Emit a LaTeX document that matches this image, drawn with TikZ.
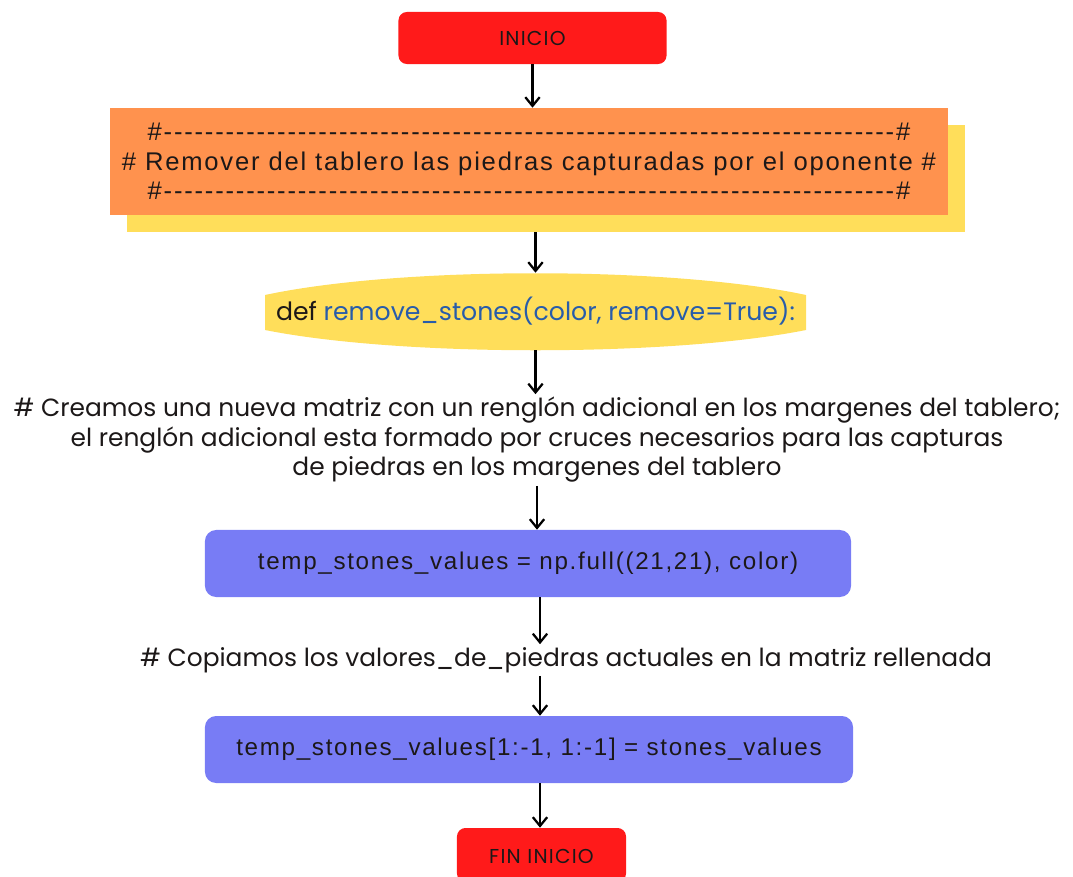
\documentclass[tikz,border=0pt]{standalone}
\usepackage{fontspec}
\setmainfont{Poppins}
\newfontfamily\capfont[LetterSpace=6]{Poppins}
\newfontfamily\boxfont[LetterSpace=7]{Liberation Sans}
\usetikzlibrary{arrows.meta, backgrounds, positioning}
\definecolor{inicred}{RGB}{255, 26, 26}
\definecolor{remorange}{RGB}{255, 146, 78}
\definecolor{remyellow}{RGB}{255, 222, 90}
\definecolor{codeblue}{RGB}{120, 124, 245}
\definecolor{kwblue}{RGB}{40, 92, 170}
\definecolor{inktext}{RGB}{28, 24, 24}
\newcommand{\dashrow}{\foreach \i in {1,...,71}{-}}
\tikzset{
  startbox/.style={rectangle, rounded corners=6pt, fill=inicred, text=inktext,
                   minimum width=#1, minimum height=1.3cm, inner sep=0pt,
                   font=\capfont\fontsize{14.3}{17}\selectfont},
  startbox/.default=6.7cm,
  notebox/.style={rectangle, fill=remorange, text=inktext, align=center,
                  minimum width=20.95cm, minimum height=2.675cm, inner sep=0pt,
                  font=\boxfont\fontsize{18.2}{21}\selectfont},
  shadebox/.style={rectangle, fill=remyellow, minimum width=20.95cm,
                   minimum height=2.675cm},
  codebox/.style={rectangle, rounded corners=8pt, fill=codeblue, text=inktext,
                  minimum width=#1, minimum height=1.675cm, inner sep=0pt,
                  font=\boxfont\fontsize{17.2}{20}\selectfont},
  codebox/.default=16.2cm,
  comment/.style={align=center, text=inktext, inner sep=2pt,
                  font=\fontsize{17.7}{21}\selectfont},
  arrow/.style={-{Straight Barb[length=2.2mm, width=3.6mm]}, line width=1.6pt,
                color=black},
}

\begin{document}
\begin{tikzpicture}[x=0.025cm, y=-0.025cm]
  \useasboundingbox (0,0) rectangle (1073,876);

  % Start
  \node[startbox] (inicio) at (532.5,38) {INICIO};

  % Header comment with its yellow backing
  \node[shadebox] (remshadow) at (546,178.5) {};
  \node[notebox] (remover) at (529,161.5)
       {\#\dashrow\#\\\# Remover del tablero las piedras capturadas por el oponente \#\\\#\dashrow\#};

  % Function definition
  \node[inner sep=0pt, minimum width=13.525cm, minimum height=1.925cm,
        font=\fontsize{17.9}{21}\selectfont] (defn) at (535.5,311.5)
       {\textcolor{inktext}{def} \textcolor{kwblue}{remove\_stones(color, remove=True):}};
  \begin{scope}[on background layer]
    \fill[remyellow, shift={(defn.center)}]
      (-270.5,-16.5) .. controls (-135,-45.5) and (135,-45.5) .. (270.5,-16.5)
      -- (270.5,18.5) .. controls (135,45.5) and (-135,45.5) .. (-270.5,18.5) -- cycle;
  \end{scope}

  % Comment on the padded matrix
  \node[comment] (creamos) at (537,440)
       {\# Creamos una nueva matriz con un renglón adicional en los margenes del tablero;\\
        el renglón adicional esta formado por cruces necesarios para las capturas\\
        de piedras en los margenes del tablero};

  \node[codebox=16.15cm] (full) at (528,563.5) {temp\_stones\_values = np.full((21,21), color)};

  \node[comment] (copiamos) at (566,660)
       {\# Copiamos los valores\_de\_piedras actuales en la matriz rellenada};

  \node[codebox] (slice) at (529,749.5) {temp\_stones\_values[1:-1, 1:-1] = stones\_values};

  % End
  \node[startbox=4.225cm, minimum height=1.35cm] (fin) at (541.5,855) {};
  \node[font=\capfont\fontsize{14.3}{17}\selectfont, text=inktext] (fintext) at (541.5,856) {FIN INICIO};

  % Connectors
  \draw[arrow] (inicio.south) -- (inicio.south |- remover.north);
  \draw[arrow] (defn.north |- remshadow.south) -- (defn.north);
  \draw[arrow] (defn.south) -- (defn.south |- creamos.north);
  \draw[arrow] (creamos.south) -- (creamos.south |- full.north);
  \draw[arrow] ([xshift=0.3cm]full.south) -- ([xshift=0.3cm]full.south |- copiamos.north);
  \draw[arrow] ([xshift=0.3cm]full.south |- copiamos.south) -- ([xshift=0.3cm]full.south |- slice.north);
  \draw[arrow] ([xshift=0.275cm]slice.south) -- ([xshift=0.275cm]slice.south |- fin.north);
\end{tikzpicture}
\end{document}
